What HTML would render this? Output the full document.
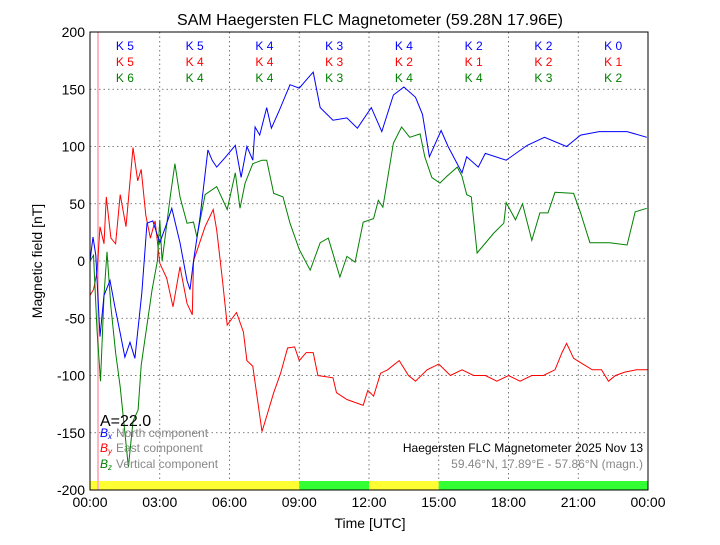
<!DOCTYPE html>
<html><head><meta charset="utf-8"><style>
body{margin:0;background:#fff;}
svg text{font-family:"Liberation Sans",sans-serif;}
</style></head><body>
<svg id="chart" width="720" height="540" xmlns="http://www.w3.org/2000/svg">
<rect width="720" height="540" fill="#fff"/>
<g id="grid"></g>
<g id="bars"></g>
<line x1="98" y1="32" x2="98" y2="490" stroke="#ffb6c1" stroke-width="2"/>
<g id="series"></g>
<rect x="90" y="32" width="558" height="458" fill="none" stroke="#000" stroke-width="1"/>
<g id="axes"></g>
<text x="370" y="25" font-size="16" text-anchor="middle">SAM Haegersten FLC Magnetometer (59.28N 17.96E)</text>
<text x="370" y="528" font-size="14" text-anchor="middle">Time [UTC]</text>
<text transform="translate(42,261) rotate(-90)" font-size="14" text-anchor="middle">Magnetic field [nT]</text>
<g id="kidx"></g>
<text x="100" y="426" font-size="16">A=22.0</text>
<g font-size="12">
<text x="100" y="437" fill="#0000ff" font-style="italic" font-family="Liberation Serif,serif">B<tspan font-size="8" dy="2">x</tspan></text>
<text x="116" y="437" fill="#888">North component</text>
<text x="100" y="452" fill="#ff0000" font-style="italic" font-family="Liberation Serif,serif">B<tspan font-size="8" dy="2">y</tspan></text>
<text x="116" y="452" fill="#888">East component</text>
<text x="100" y="468" fill="#008000" font-style="italic" font-family="Liberation Serif,serif">B<tspan font-size="8" dy="2">z</tspan></text>
<text x="116" y="468" fill="#888">Vertical component</text>
</g>
<text x="643" y="452" font-size="12" text-anchor="end">Haegersten FLC Magnetometer 2025 Nov 13</text>
<text x="643" y="468" font-size="12" text-anchor="end" fill="#888">59.46°N, 17.89°E - 57.86°N (magn.)</text>
</svg>
<script>
const tB=[0,0.13,0.25,0.43,0.6,0.86,1.07,1.3,1.5,1.72,1.93,2.23,2.45,2.7,3.0,3.25,3.52,3.87,4.17,4.3,4.45,4.73,5.07,5.25,5.45,5.8,6.25,6.5,6.75,7.0,7.1,7.3,7.6,7.8,8.15,8.6,9.0,9.3,9.6,9.9,10.45,11.05,11.5,12.1,12.55,13.05,13.5,14.0,14.3,14.6,15.1,15.4,16.0,16.2,16.7,17.0,17.9,18.8,19.55,20.5,21.1,21.9,23.1,23.95];
const vB=[0,21,5,-66,-30,-17,-40,-63,-84,-71,-85,-28,33,35,16,30,46,16,-17,-25,0,38,97,88,82,90,101,73,100,88,117,110,134,116,132,154,151,158,165,134,123,125,116,134,113,145,152,143,128,91,114,100,77,91,82,94,88,101,108,100,110,113,113,108];
const tY=[0,0.15,0.3,0.43,0.6,0.7,0.9,1.1,1.3,1.55,1.85,2.05,2.2,2.4,2.6,2.8,3.0,3.3,3.57,3.87,4.17,4.4,4.45,4.7,4.95,5.3,5.45,5.7,5.9,6.3,6.6,6.75,7.0,7.4,7.65,7.9,8.2,8.5,8.8,9.0,9.3,9.6,9.8,10.45,10.6,11.05,11.75,11.95,12.2,12.5,12.8,13.3,13.7,14.0,14.5,15.0,15.5,16.0,16.5,17.0,17.5,18.0,18.5,19.0,19.5,20.0,20.3,20.5,20.8,21.2,21.6,22.0,22.3,22.6,23.0,23.5,24];
const vY=[-30,-25,-10,30,15,56,20,15,58,30,99,70,80,40,20,35,-2,-15,-40,-5,-37,-47,0,15,30,45,27,-17,-56,-45,-62,-87,-92,-149,-132,-115,-98,-76,-75,-87,-80,-80,-100,-102,-115,-121,-126,-113,-118,-98,-95,-87,-100,-105,-95,-90,-100,-95,-100,-100,-105,-100,-105,-100,-100,-95,-80,-72,-85,-90,-95,-95,-105,-100,-97,-95,-95];
const tZ=[0,0.15,0.3,0.45,0.6,0.73,0.9,1.1,1.3,1.65,1.85,2.07,2.2,2.67,2.9,3.0,3.1,3.45,3.65,3.87,4.17,4.45,4.6,4.95,5.45,5.9,6.25,6.45,6.67,7.0,7.4,7.6,7.9,8.3,8.6,9.0,9.47,9.9,10.25,10.75,11.05,11.4,11.75,12.2,12.4,12.6,13.05,13.4,13.75,14.2,14.4,14.7,15.05,15.35,15.8,16.0,16.2,16.4,16.65,17.35,17.8,17.9,18.3,18.6,19.0,19.35,19.7,20.0,20.8,21.1,21.5,22.35,23.1,23.45,23.95];
const vZ=[0,5,-60,-105,-30,8,-40,-80,-110,-180,-140,-130,-91,-25,0,36,0,56,85,56,33,34,21,58,65,45,77,46,68,85,88,88,59,56,33,10,-8,16,20,-14,4,-1,34,37,53,47,103,117,108,111,91,73,68,74,82,74,58,56,7,24,33,51,36,50,18,42,42,60,59,42,16,16,14,43,46];
const kB=[5,5,4,3,4,2,2,0], kY=[5,4,4,3,2,1,2,1], kZ=[6,4,4,3,4,4,3,2];
const yTicks=[200,150,100,50,0,-50,-100,-150,-200];
const xTicks=["00:00","03:00","06:00","09:00","12:00","15:00","18:00","21:00","00:00"];
const NS="http://www.w3.org/2000/svg";
const X=h=>90+h*558/24, Y=v=>261-v*458/400;
function mk(tag,attrs,parent){const e=document.createElementNS(NS,tag);for(const k in attrs)e.setAttribute(k,attrs[k]);parent.appendChild(e);return e;}
const grid=document.getElementById('grid'),axes=document.getElementById('axes');
yTicks.forEach(v=>{
 const l=mk('line',{x1:90,x2:648,y1:Y(v),y2:Y(v),stroke:'#555','stroke-dasharray':'1.5,3','stroke-width':0.8},grid);
 
 
 const t=mk('text',{x:85,y:Y(v)+5,'font-size':14,'text-anchor':'end'},axes);t.textContent=v;
 
 
});
xTicks.forEach((s,i)=>{
 const x=X(i*3);
 const l=mk('line',{x1:x,x2:x,y1:32,y2:490,stroke:'#555','stroke-dasharray':'1.5,3','stroke-width':0.8},grid);
 
 
 const t=mk('text',{x:x,y:507,'font-size':14,'text-anchor':'middle'},axes);t.textContent=s;
 
 
});
const bars=document.getElementById('bars');
[[0,9,'#ffff33'],[9,12,'#33ff33'],[12,15,'#ffff33'],[15,24,'#33ff33']].forEach(b=>{
 const r=mk('rect',{x:X(b[0]),y:481,width:X(b[1])-X(b[0]),height:9,fill:b[2]},bars);
 
 
});
const ser=document.getElementById('series');
[[tY,vY,'#ff0000','series-by-east'],[tZ,vZ,'#008000','series-bz-vertical'],[tB,vB,'#0000ff','series-bx-north']].forEach(s=>{
 const d=s[0].map((t,i)=>(i?'L':'M')+X(t).toFixed(1)+','+Y(s[1][i]).toFixed(1)).join('');
 const p=mk('path',{d:d,fill:'none',stroke:s[2],'stroke-width':1},ser);
 
 
});
const kg=document.getElementById('kidx');
[[kB,'#0000ff',50],[kY,'#ff0000',66],[kZ,'#008000',82]].forEach(k=>{
 k[0].forEach((v,i)=>{
  const t=mk('text',{x:X(1.5+3*i),y:k[2],'font-size':12,'text-anchor':'middle',fill:k[1]},kg);t.textContent='K '+v;
  
  
 });
});
</script>
</body></html>
